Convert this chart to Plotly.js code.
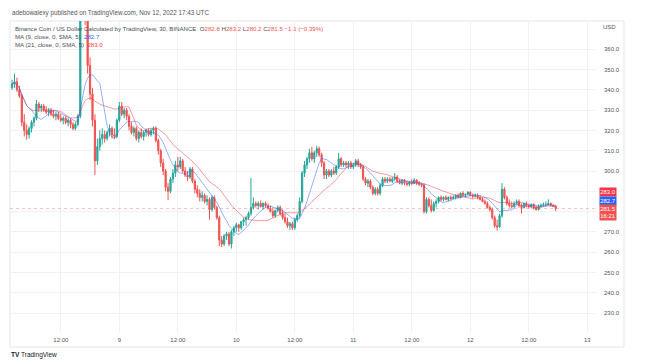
<!DOCTYPE html>
<html><head><meta charset="utf-8">
<script src="https://cdn.plot.ly/plotly-3.0.1.min.js"></script>
<style>html,body{margin:0;padding:0;background:#fff}#c{width:660px;height:364px}</style>
</head><body><div id="c"></div>
<script>
// 30-minute BNB/USD candles, Nov 8 02:00 -> Nov 12 17:30 UTC
const startTime = Date.UTC(2022, 10, 8, 2, 0);
const open = [341,343,344,340,337,324,320,318,321,324,326,333,331,332,330,329,330,328,327,328,326,325,326,324,325,323,321,323,327,385,380,376,352,338,325,305,312,316,318,316,319,321,318,317,325,332,328,330,327,322,319,321,316,319,317,319,320,318,320,321,315,310,304,300,292,290,296,299,303,302,305,300,298,297,301,295,291,289,287,288,285,286,281,287,282,277,266,264,268,269,264,270,272,273.5,272,275,276,277,279,282,284,283,284,282.5,284,283,281.5,280,278,280.5,282,279,277,275,273,274,272,276,278,285,299,303,306,309,306,309,311,308,304,298,300,298,300,299,302,306,303,304,303,304,302,303,305,303,302,296,294,295,292,289,291,289,293,296,295,296,295,296,297,295,294,295,294,293.5,294.5,294,295.5,294,293.5,293,280,286,283,280.5,284,285,287,286,287,286,287,286.5,287,288,287,289,288,288.5,289.5,288,287.5,288,287,286,285,284,282,281,277,273,272.5,278,291,287,284,283,282.5,284,285,283,282,284,283,282.5,283.5,282,281,282.5,283,283.5,283.5,284,283,282.8];
const high = [345,348,346,342,338,328,323,322,325,327,335,334,333,333,332,331,331,330,329,329,328,327,327,326,326,324,324,328,398,394,384,378,356,341,328,316,320,321,320,320,323,322,321,326,334,334,331,331,328,324,322,322,320,321,320,321,321,321,322,322,316,311,306,301,294,297,301,305,307,307,306,302,300,302,302,296,293,291,290,289,288,287,288,288,283,278,268,269,270,270,271,273,274.5,274,275.5,277,278,280,296.6,287,285,285,285.5,284.5,285,284,283,282,281,283,283,281,279,277,275,275,277,279,287,300,305,307,311,312,310,312.4,312,309,305,301,301,301,302,303,309,307,305,305,305,305,304,306,306,304,303,297,296,296,293,292,292,294,297,297,297,297,297,299,298,296,296,296,295,295,296,296.5,296,295,294,294,287,287,286,285,286,287.5,288,287.5,288,287.5,288,288,288.5,289,289.5,290,289,290,290,289,289,289,288,287,286,285,283,282,278,276,279,294,292,288,286,285,285,286,286,284,284.5,285,284,284,284,283,283.5,284,284.5,285,286,284.5,283.5,283.2];
const low = [340,341,339,336,322,317,315.5,316,319,322,325,329,329,329,328,327,327,326,325,325,324,323,323,322,321,320,320,322,326,377,372,348,335,322,298,303,310,313,314,315,317,316,316,316,324,327,326,325,320,318,317,315,314,316,315,317,317,317,318,314,308,302,298,290,285.7,289,294,297,300,301,299,297,295,296,294,289,287,285,285,284,283,276,280,281,276,263,262.5,263,266,263,261.8,268,270,270,271,273,273,276,278,281,282,281,282,281,282,281,279.5,277,277,279.5,278,276,274,272,271,270.9,271,275,277,284,297,301,304,305,304,307,307,302,296,296,297,297,298,298,301,302,302,302,301,301,301,302,302,301,295,293,292,291,288,288,288,288,292,294,294,294.5,294,295,294,293.5,293,293,292.5,292.5,293,293.5,293,292.5,292,279,279,282,279.5,280,282,284,285,285,285.5,285,285.5,286,286,286.5,286.5,287.5,287,288,287.5,286.5,287,286,285.5,284.5,283.5,281.5,280,276,272,270.6,272,277,286,283,282,281.5,282,283.5,282,279,281.5,282,281.5,281.5,281,280.5,280.5,282,282.5,282.5,283,282.5,282.2,280.2];
const close = [343,344,340,337,324,320,318,321,324,326,333,331,332,330,329,330,328,327,328,326,325,326,324,325,323,321,323,327,385,380,376,352,338,325,305,312,316,318,316,319,321,318,317,325,332,328,330,327,322,319,321,316,319,317,319,320,318,320,321,315,310,304,300,292,290,296,299,303,302,305,300,298,297,301,295,291,289,287,288,285,286,281,287,282,277,266,264,268,269,264,270,272,273.5,272,275,276,277,279,282,284,283,284,282.5,284,283,281.5,280,278,280.5,282,279,277,275,273,274,272,276,278,285,299,303,306,309,306,309,311,308,304,298,300,298,300,299,302,306,303,304,303,304,302,303,305,303,302,296,294,295,292,289,291,289,293,296,295,296,295,296,297,295,294,295,294,293.5,294.5,294,295.5,294,293.5,293,280,286,283,280.5,284,285,287,286,287,286,287,286.5,287,288,287,289,288,288.5,289.5,288,287.5,288,287,286,285,284,282,281,277,273,272.5,278,291,287,284,283,282.5,284,285,283,282,284,283,282.5,283.5,282,281,282.5,283,283.5,283.5,284,283,282.6,281.5];

const tickTimes = ['2022-11-08 12:00','2022-11-09 00:00','2022-11-09 12:00','2022-11-10 00:00','2022-11-10 12:00','2022-11-11 00:00','2022-11-11 12:00','2022-11-12 00:00','2022-11-12 12:00','2022-11-13 00:00'];
const tickLabels = ['12:00','9','12:00','10','12:00','11','12:00','12','12:00','13'];
const priceTicks = [230,240,250,260,270,280,290,300,310,320,330,340,350,360];
const hiddenPriceTicks = [280,290]; // covered by the price-scale labels in the reference

function fmt(ms){return new Date(ms).toISOString().slice(0,19).replace('T',' ');}
const times = close.map((_, i) => fmt(startTime + i*1800000));

function sma(arr, n){
  return arr.map((_, i) => { const s = Math.max(0, i-n+1); let t=0; for(let k=s;k<=i;k++) t+=arr[k]; return t/(i-s+1); });
}
const ma9 = sma(close, 9), ma21 = sma(close, 21);
const N = close.length;
const last = close[N-1], prev = close[N-2];
const chg = last - prev, pct = chg/prev*100;

// layout helpers (pixel -> paper)
const L=10, R=596, T=21, B=333;
const px = x => (x-L)/(R-L), py = y => (B-y)/(B-T);
const red='#ef5350', green='#26a69a', txt='#4a4e59';
const F = 'Liberation Sans, Arial, sans-serif';

const traces = [
  {type:'scatter', mode:'lines', x:times, y:ma21, line:{color:'rgba(242,54,69,0.5)', width:1}, hoverinfo:'skip'},
  {type:'scatter', mode:'lines', x:times, y:ma9, line:{color:'rgba(41,98,255,0.5)', width:1}, hoverinfo:'skip'},
  {type:'candlestick', x:times, open:open, high:high, low:low, close:close,
   increasing:{line:{color:green, width:1}, fillcolor:green},
   decreasing:{line:{color:red, width:1}, fillcolor:red}, whiskerwidth:0}
];

const rangeStart = fmt(Date.UTC(2022,10,8,1,34,40));
const rangeEnd = fmt(Date.UTC(2022,10,8,1,34,40) + (R-L)/117*86400000);

const ann = [];
ann.push({xref:'paper', yref:'paper', x:px(10), y:py(13), xanchor:'left', yanchor:'middle', showarrow:false,
  text:'adebowalexy published on TradingView.com, Nov 12, 2022 17:43 UTC', font:{family:F, size:6.3, color:'#555'}});
const rs = v => '<span style="color:'+red+'">'+v+'</span>';
ann.push({xref:'paper', yref:'paper', x:px(13), y:py(28), xanchor:'left', yanchor:'middle', showarrow:false,
  text:'Binance Coin / US Dollar Calculated by TradingView, 30, BINANCE  O'+rs(open[N-1].toFixed(1))+' H'+rs(high[N-1].toFixed(1))+' L'+rs(low[N-1].toFixed(1))+' C'+rs(last.toFixed(1))+' '+rs('\u2212'+Math.abs(chg).toFixed(1)+' (\u2212'+Math.abs(pct).toFixed(2)+'%)'),
  font:{family:F, size:6.1, color:txt}});
ann.push({xref:'paper', yref:'paper', x:px(13), y:py(36.3), xanchor:'left', yanchor:'middle', showarrow:false,
  text:'MA (9, close, 0, SMA, 5)  <span style="color:#2962ff">'+ma9[N-1].toFixed(1)+'</span>', font:{family:F, size:6.1, color:txt}});
ann.push({xref:'paper', yref:'paper', x:px(13), y:py(44.5), xanchor:'left', yanchor:'middle', showarrow:false,
  text:'MA (21, close, 0, SMA, 5)  <span style="color:#f23645">'+ma21[N-1].toFixed(1)+'</span>', font:{family:F, size:6.1, color:txt}});
ann.push({xref:'paper', yref:'paper', x:px(609), y:py(27), xanchor:'center', yanchor:'middle', showarrow:false,
  text:'USD', font:{family:F, size:6, color:'#555'}});
ann.push({xref:'paper', yref:'paper', x:px(9), y:py(355), xanchor:'left', yanchor:'middle', showarrow:false,
  text:'<b>TV</b> TradingView', font:{family:F, size:6.5, color:'#131722'}});
// price scale labels
ann.push({xref:'paper', yref:'y', x:px(599), y:ma21[N-1], yshift:13.5, xanchor:'left', yanchor:'middle', showarrow:false,
  text:ma21[N-1].toFixed(1), bgcolor:'#f23645', width:16, height:8, borderpad:0, font:{family:F, size:6, color:'#fff'}});
ann.push({xref:'paper', yref:'y', x:px(599), y:ma9[N-1], yshift:5.5, xanchor:'left', yanchor:'middle', showarrow:false,
  text:ma9[N-1].toFixed(1), bgcolor:'#2962ff', width:16, height:8, borderpad:0, font:{family:F, size:6, color:'#fff'}});
ann.push({xref:'paper', yref:'y', x:px(599), y:last, yshift:-3.5, xanchor:'left', yanchor:'middle', showarrow:false,
  text:last.toFixed(1)+'<br>16:21', bgcolor:red, width:16, height:15, borderpad:0, font:{family:F, size:6, color:'#fff'}});

const layout = {
  width:660, height:364, margin:{l:L, r:660-R, t:T, b:364-B},
  paper_bgcolor:'#fff', plot_bgcolor:'#fff', showlegend:false,
  xaxis:{type:'date', range:[rangeStart, rangeEnd], tickvals:tickTimes, ticktext:tickLabels, ticks:'',
    tickfont:{family:F, size:6, color:'#555'}, gridcolor:'#f0f1f4', showline:false, zeroline:false,
    rangeslider:{visible:false}, ticklabelstandoff:2},
  yaxis:{side:'right', range:[300-(B-171)/2.029, 300+(171-T)/2.029], tickvals:priceTicks,
    ticktext:priceTicks.map(v => hiddenPriceTicks.includes(v) ? '' : v.toFixed(1)), ticks:'', tickfont:{family:F, size:6, color:'#555'},
    gridcolor:'#f0f1f4', zeroline:false, showline:false, ticklabelstandoff:7},
  shapes:[
    {type:'rect', xref:'paper', yref:'paper', x0:0, x1:px(624), y0:py(347), y1:1, line:{color:'#e3e5ea', width:1}, layer:'below'},
    {type:'line', xref:'paper', yref:'y', x0:0, x1:1, y0:last, y1:last, line:{color:'rgba(239,83,80,0.35)', width:1, dash:'dot'}}
  ],
  annotations:ann
};
Plotly.newPlot('c', traces, layout, {staticPlot:true, displayModeBar:false});
</script></body></html>
